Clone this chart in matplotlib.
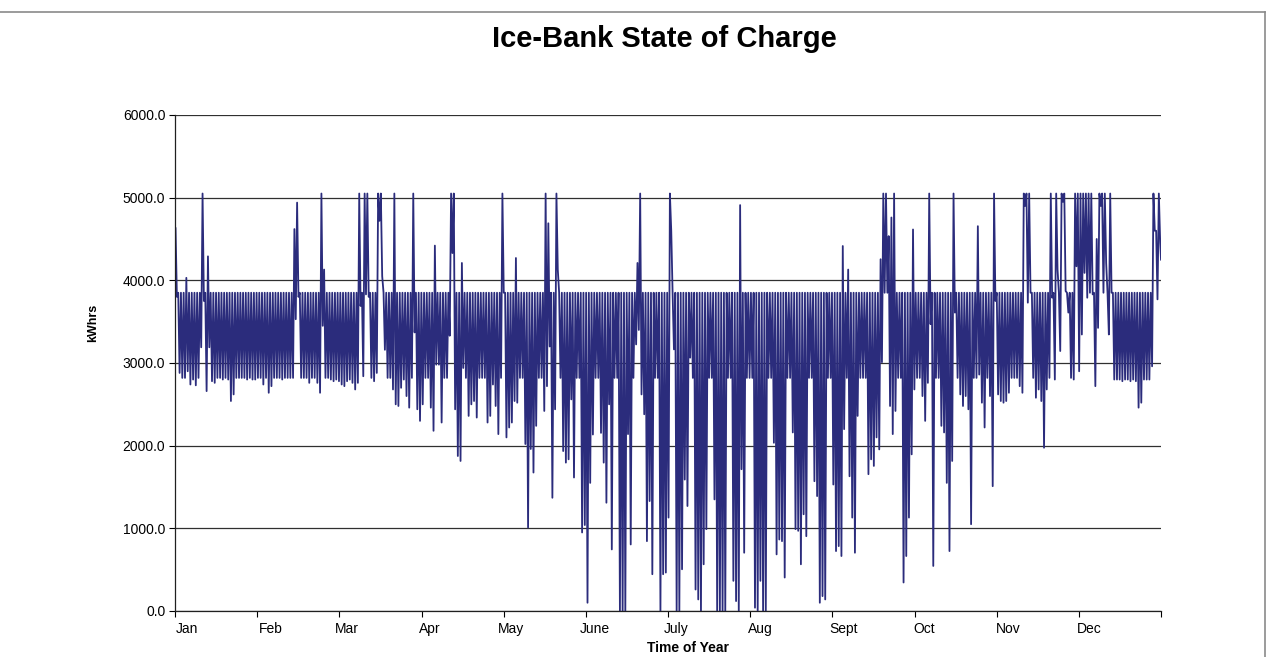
import matplotlib
matplotlib.use('Agg')
import matplotlib.pyplot as plt
from matplotlib.lines import Line2D
import numpy as np

plt.rcParams['font.family'] = ['Liberation Sans', 'DejaVu Sans']

# daily minimum state of charge (kWh), one value per day
jan_low = [3800, 2880, 2820, 2820, 2900, 2740, 2800, 2730, 2820, 3190, 3750, 2660, 3190, 2780, 2760, 2820,
           2820, 2800, 2820, 2800, 2540, 2620, 2820, 2820, 2820, 2820, 2800, 2820, 2800, 2800, 2820]
feb_low = [2820, 2740, 2820, 2640, 2720, 2820, 2820, 2820, 2800, 2820, 2820, 2820, 2820, 3530, 3800, 2820,
           2820, 2820, 2760, 2820, 2820, 2760, 2640, 3450, 2820, 2820, 2800, 2780]
mar_low = [2800, 2780, 2740, 2720, 2780, 2800, 2760, 2680, 2760, 3690, 2840, 3830, 3800, 2820, 2780, 2880,
           4720, 4050, 3160, 2820, 2820, 2680, 2500, 2480, 2700, 2800, 2600, 2460, 2820, 3370, 2440]
apr_low = [2300, 2500, 2820, 2820, 2460, 2180, 2980, 2980, 2280, 2820, 2820, 3330, 4330, 2440, 1875, 1815,
           2940, 2820, 2360, 2500, 2540, 2340, 2820, 2820, 2820, 2280, 2360, 2740, 2480, 2140]
may_low = [2820, 3850, 2100, 2220, 2280, 2540, 2520, 2820, 2820, 2020, 1010, 1960, 1675, 2240, 2820, 2820,
           2420, 2720, 3200, 1370, 2440, 4130, 2820, 1935, 1795, 1835, 2560, 1615, 2820, 2820, 950]
jun_low = [1040, 100, 1550, 2135, 2820, 2820, 2155, 1795, 1310, 2500, 745, 2820, 2820, 0, 0, 0,
           2140, 805, 2820, 3225, 3400, 2620, 2380, 845, 1330, 445, 2820, 2820, 0, 445]
jul_low = [465, 1130, 4600, 3165, 0, 0, 505, 1590, 1270, 3065, 2820, 260, 140, 0, 565, 990,
           2820, 2820, 1350, 0, 0, 0, 0, 2820, 2820, 365, 120, 0, 1715, 705, 2820]
aug_low = [2820, 2820, 40, 0, 365, 0, 0, 2820, 2820, 2035, 685, 865, 845, 405, 2820, 2820,
           2160, 990, 970, 565, 1170, 905, 2820, 2820, 1570, 1390, 100, 180, 140, 2820, 2820]
sep_low = [1530, 725, 785, 665, 2200, 2820, 1630, 1130, 705, 2360, 2820, 2820, 2820, 1655, 1835, 1755,
           2100, 1955, 3010, 3850, 3850, 2480, 2140, 2420, 2820, 2820, 345, 665, 1130, 1895]
oct_low = [2680, 2820, 2820, 2600, 2300, 2760, 3470, 545, 2820, 2820, 2240, 2160, 1550, 725, 1815, 3610,
           2820, 2620, 2480, 2600, 2440, 1050, 2820, 2820, 2860, 2520, 2220, 2820, 2600, 1510, 3750]
nov_low = [2620, 2540, 2520, 2540, 2640, 2820, 2820, 2820, 2720, 2640, 4900, 3730, 3850, 2820, 2580, 2680,
           2540, 1975, 2680, 2820, 3790, 2800, 4130, 3145, 4950, 3870, 3610, 2820, 2800, 4170]
dec_low = [2900, 3345, 4090, 3790, 3850, 3830, 2720, 3425, 4900, 3850, 4210, 3345, 3850, 2800, 2800, 2800,
           2780, 2800, 2800, 2780, 2800, 2780, 2460, 2520, 2800, 2800, 2800, 2960, 4600, 3770, 4460]

# days whose peak rose above the normal 3850 kWh charge limit
peak_day = [0, 4, 10, 12, 44, 45, 54, 55, 68, 70, 71, 75, 76, 81, 88, 96, 102, 103, 106,
            121, 126, 137, 138, 141, 171, 172, 183, 209, 247, 249, 261, 262, 263, 264, 265, 266,
            273, 279, 288, 297, 303, 314, 315, 316, 324, 326, 328, 329, 333,
            334, 335, 336, 337, 338, 339, 341, 342, 343, 344, 346, 362, 363, 364]
peak_kwh = [4630, 4030, 5050, 4290, 4620, 4940, 5050, 4130, 5050, 5050, 5050, 5050, 5050, 5050, 5050, 4420, 5050, 5050, 4210,
            5050, 4270, 5050, 4690, 5050, 4210, 5050, 5050, 4910, 4415, 4130, 4255, 5050, 5050, 4535, 4760, 5050,
            4615, 5050, 5050, 4655, 5050, 5050, 5050, 5050, 5050, 5050, 5050, 5050, 5050,
            5050, 5050, 5050, 5050, 5050, 5050, 4500, 5050, 5050, 5050, 5050, 5050, 4600, 5050]
charge_cap = 3850
end_kwh = 4250

months = ['Jan', 'Feb', 'Mar', 'Apr', 'May', 'June', 'July', 'Aug', 'Sept', 'Oct', 'Nov', 'Dec']
month_start = [0, 31, 59, 90, 120, 151, 181, 212, 243, 273, 304, 334]

lows = np.array(jan_low + feb_low + mar_low + apr_low + may_low + jun_low +
                jul_low + aug_low + sep_low + oct_low + nov_low + dec_low, dtype=float)
highs = np.full(len(lows), float(charge_cap))
highs[peak_day] = peak_kwh

# each day: recharge to the peak overnight, then draw down to the daily low
days = np.arange(len(lows))
t = np.column_stack([days + 0.2, days + 0.7]).ravel()
soc = np.column_stack([highs, lows]).ravel()
t = np.append(t, len(lows))
soc = np.append(soc, end_kwh)

fig = plt.figure(figsize=(12.72, 6.57), dpi=100)
ax = fig.add_axes([175/1272, 1 - 611/657, 986/1272, 496/657])

ax.plot(t, soc, color='#2B2C7C', linewidth=1.3)

ax.set_xlim(0, 365)
ax.set_ylim(0, 6000)
ax.set_yticks(np.arange(0, 6001, 1000))
ax.set_yticklabels(['%.1f' % v for v in np.arange(0, 6001, 1000)], fontsize=10)
ax.grid(axis='y', color='#303030', linewidth=0.9)
ax.set_axisbelow(True)

ax.set_xticks(np.arange(13) * 365 / 12)
ax.set_xticklabels([])
ax.set_xticks(np.array(month_start) + 4.5, minor=True)
ax.set_xticklabels(months, minor=True, fontsize=10)
ax.tick_params(axis='x', which='major', length=4, direction='out', width=0.8)
ax.tick_params(axis='x', which='minor', length=0, pad=8)
ax.tick_params(axis='y', length=4, width=0.8, pad=3)

for side in ['top', 'right']:
    ax.spines[side].set_visible(False)
for side in ['left', 'bottom']:
    ax.spines[side].set_color('#202020')
    ax.spines[side].set_linewidth(0.9)

ax.set_ylabel('kWhrs', fontsize=9, fontweight='bold')
ax.yaxis.set_label_coords(-0.077, 0.58)
fig.text(688/1272, 2/657, 'Time of Year', fontsize=10, fontweight='bold',
         ha='center', va='bottom')
fig.text(664/1272, 1 - 39/657, 'Ice-Bank State of Charge', fontsize=21, fontweight='bold',
         ha='center', va='center')

# outer chart frame
fig.add_artist(Line2D([0, 1265/1272], [1 - 12/657, 1 - 12/657], color='#8a8a8a', linewidth=1.2,
                      transform=fig.transFigure))
fig.add_artist(Line2D([1265/1272, 1265/1272], [0, 1 - 12/657], color='#8a8a8a', linewidth=1.2,
                      transform=fig.transFigure))

fig.savefig('out.png', dpi=100)
